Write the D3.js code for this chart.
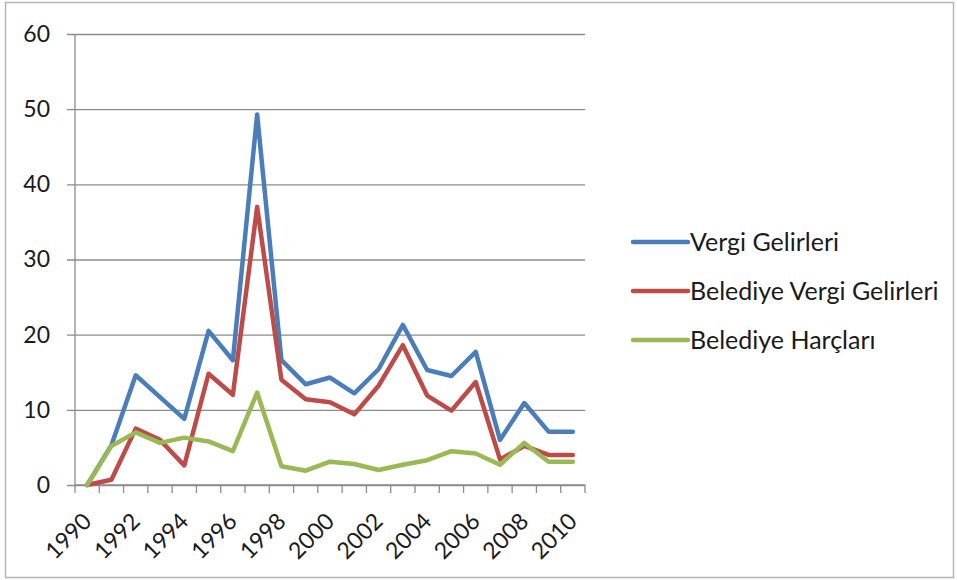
<!DOCTYPE html>
<html>
<head>
<meta charset="utf-8">
<script src="https://cdn.jsdelivr.net/npm/d3@7"></script>
<style>
  html, body { margin: 0; padding: 0; background: #fff; }
  svg { display: block; }
  text { font-family: Lato, "Open Sans", sans-serif; fill: #1a1a1a; }
</style>
</head>
<body>
<svg id="chart" width="957" height="580"></svg>
<script>
// Years on the category axis
const years = [1990, 1991, 1992, 1993, 1994, 1995, 1996, 1997, 1998, 1999, 2000,
               2001, 2002, 2003, 2004, 2005, 2006, 2007, 2008, 2009, 2010];

// Series values
const vergiGelirleri = [0, 5.3, 14.6, 11.7, 8.8, 20.5, 16.6, 49.3, 16.6, 13.4, 14.3,
                        12.2, 15.4, 21.3, 15.3, 14.5, 17.7, 6.0, 10.9, 7.1, 7.1];
const belediyeVergiGelirleri = [0, 0.7, 7.5, 6.0, 2.6, 14.8, 12.0, 37.0, 14.0, 11.4, 11.0,
                                9.4, 13.2, 18.6, 11.9, 9.9, 13.7, 3.4, 5.2, 4.0, 4.0];
const belediyeHarclari = [0, 5.2, 7.0, 5.6, 6.3, 5.8, 4.5, 12.3, 2.5, 1.9, 3.1,
                          2.8, 2.0, 2.7, 3.3, 4.5, 4.2, 2.7, 5.6, 3.1, 3.1];

const seriesNames = ["Vergi Gelirleri", "Belediye Vergi Gelirleri", "Belediye Harçları"];
const seriesColors = ["#4A7EBB", "#BE4B48", "#98B954"];
const yTicks = [0, 10, 20, 30, 40, 50, 60];
const xLabelYears = [1990, 1992, 1994, 1996, 1998, 2000, 2002, 2004, 2006, 2008, 2010];

const series = [vergiGelirleri, belediyeVergiGelirleri, belediyeHarclari].map((vals, i) => ({
  name: seriesNames[i],
  color: seriesColors[i],
  values: vals
}));

const svg = d3.select("#chart");
const W = 957, H = 580;
const plot = { left: 75, right: 585, top: 34, bottom: 485 };

// Frame around the whole chart
svg.append("rect")
  .attr("x", 5.5).attr("y", 2.5)
  .attr("width", W - 9).attr("height", H - 5)
  .attr("fill", "#fff")
  .attr("stroke", "#b5b5b5")
  .attr("stroke-width", 1.5);

const x = d3.scaleBand().domain(years).range([plot.left, plot.right]).padding(0);
const y = d3.scaleLinear().domain([0, 60]).range([plot.bottom, plot.top]);

// Horizontal gridlines with short outer ticks
const yAxis = d3.axisLeft(y)
  .tickValues(yTicks)
  .tickSize(-(plot.right - plot.left))
  .tickFormat(d3.format("d"));

const gy = svg.append("g")
  .attr("transform", `translate(${plot.left},0)`)
  .call(yAxis);
gy.select(".domain").remove();
gy.selectAll(".tick line")
  .attr("x1", -8)
  .attr("stroke", "#8c8c8c")
  .attr("stroke-width", 1.3);
gy.selectAll(".tick text")
  .attr("x", -25)
  .attr("font-size", 23)
  .attr("font-family", "Lato, sans-serif")
  .attr("fill", "#1a1a1a");

// Vertical axis line
svg.append("line")
  .attr("x1", plot.left).attr("x2", plot.left)
  .attr("y1", y(60)).attr("y2", y(0))
  .attr("stroke", "#8c8c8c").attr("stroke-width", 1.3);

// Category axis: baseline and ticks at band boundaries
svg.append("line")
  .attr("x1", plot.left).attr("x2", plot.right)
  .attr("y1", y(0)).attr("y2", y(0))
  .attr("stroke", "#8c8c8c").attr("stroke-width", 1.3);

const boundaries = years.map(d => x(d)).concat([x(years[years.length - 1]) + x.bandwidth()]);
svg.append("g").selectAll("line")
  .data(boundaries)
  .join("line")
  .attr("x1", d => d).attr("x2", d => d)
  .attr("y1", y(0)).attr("y2", y(0) + 8)
  .attr("stroke", "#8c8c8c").attr("stroke-width", 1.3);

// Rotated year labels
svg.append("g").selectAll("text")
  .data(xLabelYears)
  .join("text")
  .attr("transform", d => `translate(${x(d) + x.bandwidth() / 2},${y(0) + 32}) rotate(-45)`)
  .attr("text-anchor", "end")
  .attr("dy", "0.35em")
  .attr("font-size", 23)
  .text(d => d);

// Series lines
const line = d3.line()
  .x((d, i) => x(years[i]) + x.bandwidth() / 2)
  .y(d => y(d));

svg.append("g").selectAll("path")
  .data(series)
  .join("path")
  .attr("d", d => line(d.values))
  .attr("fill", "none")
  .attr("stroke", d => d.color)
  .attr("stroke-width", 4.5)
  .attr("stroke-linejoin", "round")
  .attr("stroke-linecap", "round");

// Legend
const legend = svg.append("g").attr("transform", "translate(633,242)");
const item = legend.selectAll("g")
  .data(series)
  .join("g")
  .attr("transform", (d, i) => `translate(0,${i * 49})`);
item.append("line")
  .attr("x1", 0).attr("x2", 55)
  .attr("y1", 0).attr("y2", 0)
  .attr("stroke", d => d.color)
  .attr("stroke-width", 4.5)
  .attr("stroke-linecap", "round");
item.append("text")
  .attr("x", 57)
  .attr("dy", "0.35em")
  .attr("font-size", 25)
  .text(d => d.name);
</script>
</body>
</html>
